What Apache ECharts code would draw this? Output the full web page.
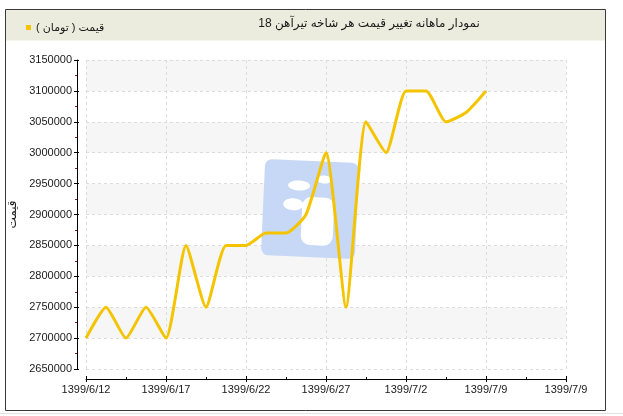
<!DOCTYPE html>
<html>
<head>
<meta charset="utf-8">
<script src="https://cdn.jsdelivr.net/npm/echarts@6/dist/echarts.min.js"></script>
<style>
  html, body { margin: 0; padding: 0; background: #fff; }
  #main { width: 623px; height: 416px; }
</style>
</head>
<body>
<div id="main" dir="rtl"></div>
<script>
// ---- data ----
const chartTitle = 'نمودار ماهانه تغییر قیمت هر شاخه تیرآهن 18';
const seriesName = 'قیمت ( تومان )';
const yAxisName = 'قیمت';
// x tick labels (every 4th point position, the last one beyond the data)
const xTickLabels = ['1399/6/12', '1399/6/17', '1399/6/22', '1399/6/27', '1399/7/2', '1399/7/9', '1399/7/9'];
const pointsPerTick = 4;
// price values, one per point
const prices = [2700000, 2750000, 2700000, 2750000, 2700000, 2850000, 2750000, 2850000, 2850000, 2870000,
                2870000, 2900000, 3000000, 2750000, 3050000, 3000000, 3100000, 3100000, 3050000, 3065000, 3100000];
const yMin = 2650000, yMax = 3150000, yStep = 50000;

const FONT = "Tahoma, 'Liberation Sans', 'DejaVu Sans', sans-serif";
const xMax = (xTickLabels.length - 1) * pointsPerTick;
const seriesData = prices.map((v, i) => [i, v]);

const chart = echarts.init(document.getElementById('main'), null, { renderer: 'canvas' });

const gridPos = { left: 86, right: 57, top: 60, bottom: 47, containLabel: false, outerBoundsMode: 'none' };

chart.setOption({
  backgroundColor: '#ffffff',
  animation: false,
  textStyle: { fontFamily: FONT },
  graphic: [
    { type: 'rect', z: -10, shape: { x: 5.5, y: 9.5, width: 600, height: 31 }, style: { fill: '#ECECDE', stroke: null } },
    { type: 'rect', z: -9, shape: { x: 5.5, y: 9.5, width: 600, height: 401 }, style: { fill: null, stroke: '#3a3a3a', lineWidth: 1 } },
    { type: 'line', z: -9, shape: { x1: 0, y1: 413.5, x2: 623, y2: 413.5 }, style: { stroke: '#e2e2e2', lineWidth: 1 } },
    { type: 'text', z: 10, x: 369, y: 24, style: { text: chartTitle, fontFamily: FONT, fontSize: 12, fill: '#1a1a1a', align: 'center', verticalAlign: 'middle' } },
    {
      type: 'group', z: 1, x: 310, y: 209, rotation: -0.045,
      children: [
        { type: 'rect', z: 1, shape: { x: -47, y: -48, width: 94, height: 96, r: 7 }, style: { fill: '#C3D6F4', opacity: 0.95 } },
        { type: 'ellipse', z: 1, shape: { cx: -12, cy: -23, rx: 11, ry: 5 }, style: { fill: '#ffffff' } },
        { type: 'ellipse', z: 1, shape: { cx: 13, cy: -30, rx: 7, ry: 4 }, style: { fill: '#ffffff' } },
        { type: 'ellipse', z: 1, shape: { cx: -17, cy: -4, rx: 10, ry: 6 }, style: { fill: '#ffffff' } },
        { type: 'rect', z: 1, shape: { x: -8, y: -12, width: 32, height: 48, r: 9 }, style: { fill: '#ffffff' } }
      ]
    }
  ],
  legend: {
    left: 21, top: 17,
    itemWidth: 5, itemHeight: 5, icon: 'rect',
    textStyle: { fontFamily: FONT, fontSize: 11, color: '#1a1a1a', padding: [0, 0, 0, 0] },
    data: [{ name: seriesName, itemStyle: { color: '#F5C400' } }]
  },
  grid: [gridPos, Object.assign({}, gridPos)],
  xAxis: [
    {
      type: 'value', gridIndex: 0, min: 0, max: xMax, interval: pointsPerTick, offset: 10,
      axisLine: { show: true, onZero: false, lineStyle: { color: '#000', width: 1 } },
      axisTick: { show: true, inside: false, length: 3, lineStyle: { color: '#000' } },
      minorTick: { show: false },
      axisLabel: { show: true, margin: 5, fontFamily: FONT, fontSize: 11, color: '#1a1a1a',
                   formatter: v => xTickLabels[Math.round(v / pointsPerTick)] },
      splitLine: { show: true, lineStyle: { color: '#dcdcdc', type: [3, 3] } },
      splitArea: { show: false }
    },
    {
      type: 'value', gridIndex: 1, min: 0, max: xMax, interval: pointsPerTick, offset: 10,
      axisLine: { show: false, onZero: false },
      axisTick: { show: true, inside: true, length: 3, lineStyle: { color: '#000' } },
      minorTick: { show: true, splitNumber: 2, length: 2, lineStyle: { color: '#000' } },
      axisLabel: { show: false }, splitLine: { show: false }, splitArea: { show: false }
    }
  ],
  yAxis: [
    {
      type: 'value', gridIndex: 0, min: yMin, max: yMax, interval: yStep, offset: 9,
      name: yAxisName, nameLocation: 'middle', nameGap: 57, nameRotate: 90,
      nameTextStyle: { fontFamily: FONT, fontSize: 12, color: '#1a1a1a' },
      axisLine: { show: true, onZero: false, lineStyle: { color: '#000', width: 1 } },
      axisTick: { show: true, inside: false, length: 3, lineStyle: { color: '#000' } },
      minorTick: { show: true, splitNumber: 2, length: 2, lineStyle: { color: '#8B1a1a' } },
      axisLabel: { show: true, margin: 5, fontFamily: FONT, fontSize: 11, color: '#1a1a1a',
                   formatter: v => String(v) },
      splitLine: { show: true, lineStyle: { color: '#dcdcdc', type: [3, 3] } },
      splitArea: { show: true, areaStyle: { color: ['#ffffff', '#f6f6f6'] } }
    },
    {
      type: 'value', gridIndex: 1, min: yMin, max: yMax, interval: yStep, offset: 9,
      axisLine: { show: false, onZero: false },
      axisTick: { show: true, inside: true, length: 2, lineStyle: { color: '#000' } },
      minorTick: { show: false },
      axisLabel: { show: false }, splitLine: { show: false }, splitArea: { show: false }
    }
  ],
  series: [{
    name: seriesName, type: 'line', xAxisIndex: 0, yAxisIndex: 0, z: 3,
    data: seriesData, smooth: 0.18, showSymbol: false, symbol: 'none',
    lineStyle: { color: '#F5C400', width: 3 },
    itemStyle: { color: '#F5C400' }
  }]
});
</script>
</body>
</html>
